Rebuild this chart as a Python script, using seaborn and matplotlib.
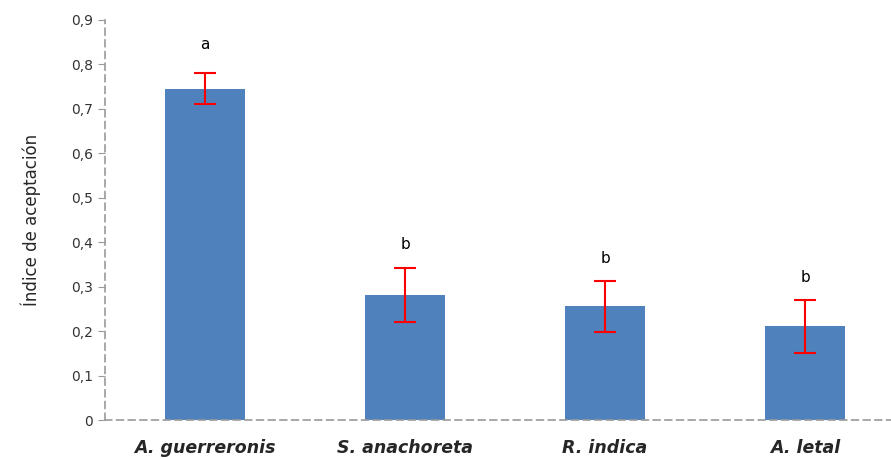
import matplotlib
matplotlib.use("Agg")
import matplotlib.pyplot as plt
import seaborn as sns
import pandas as pd
import numpy as np
from matplotlib.ticker import FuncFormatter

species = ["A. guerreronis", "S. anachoreta", "R. indica", "A. letal"]
means = [0.745, 0.281, 0.256, 0.211]
errors = [0.035, 0.060, 0.057, 0.060]
letters = ["a", "b", "b", "b"]
letter_y = [0.827, 0.377, 0.347, 0.304]
yticks = [0, 0.1, 0.2, 0.3, 0.4, 0.5, 0.6, 0.7, 0.8, 0.9]

df = pd.DataFrame({"species": species, "mean": means, "err": errors})

sns.set_style("white")
plt.rcParams['font.family'] = ['DejaVu Sans']

fig = plt.figure(figsize=(8.91, 4.59), dpi=100)
ax = fig.add_axes([105/891, 39/459, 786/891, 400/459])

sns.barplot(data=df, x="species", y="mean", color="#4F81BD", saturation=1,
            width=0.4, errorbar=None, ax=ax, linewidth=0)

xpos = np.arange(len(species))
ax.errorbar(xpos, df["mean"], yerr=df["err"], fmt="none", ecolor="#FF0000",
            elinewidth=1.5, capsize=8, capthick=1.5, zorder=5)

for x, l, ly in zip(xpos, letters, letter_y):
    ax.text(x, ly, l, ha="center", va="bottom", fontsize=11, color="black")

ax.set_ylim(0, 0.9)
ax.set_xlim(-0.5, 3.43)
ax.set_yticks(yticks)
ax.yaxis.set_major_formatter(FuncFormatter(lambda v, p: "0" if v == 0 else f"{v:.1f}".replace(".", ",")))
ax.tick_params(axis="y", length=5, color="#999999", labelsize=10, labelcolor="#333333", direction="out", left=True)
ax.tick_params(axis="x", length=4, color="#999999", labelsize=12.5, pad=14, bottom=True)
ax.set_xticks(xpos)
ax.set_xticklabels(species, fontstyle="italic", fontweight="bold")
ax.set_xticks([0.5, 1.5, 2.5], minor=True)
ax.tick_params(axis="x", which="major", length=0)
ax.tick_params(axis="x", which="minor", length=4, color="#999999")

for s in ["top", "right"]:
    ax.spines[s].set_visible(False)
for s in ["left", "bottom"]:
    ax.spines[s].set_color("#999999")
    ax.spines[s].set_linestyle((0, (4, 3)))
    ax.spines[s].set_linewidth(1.2)

ax.set_xlabel("")
ax.set_ylabel("Índice de aceptación", fontsize=12, labelpad=22)

fig.savefig("out.png", dpi=100)
